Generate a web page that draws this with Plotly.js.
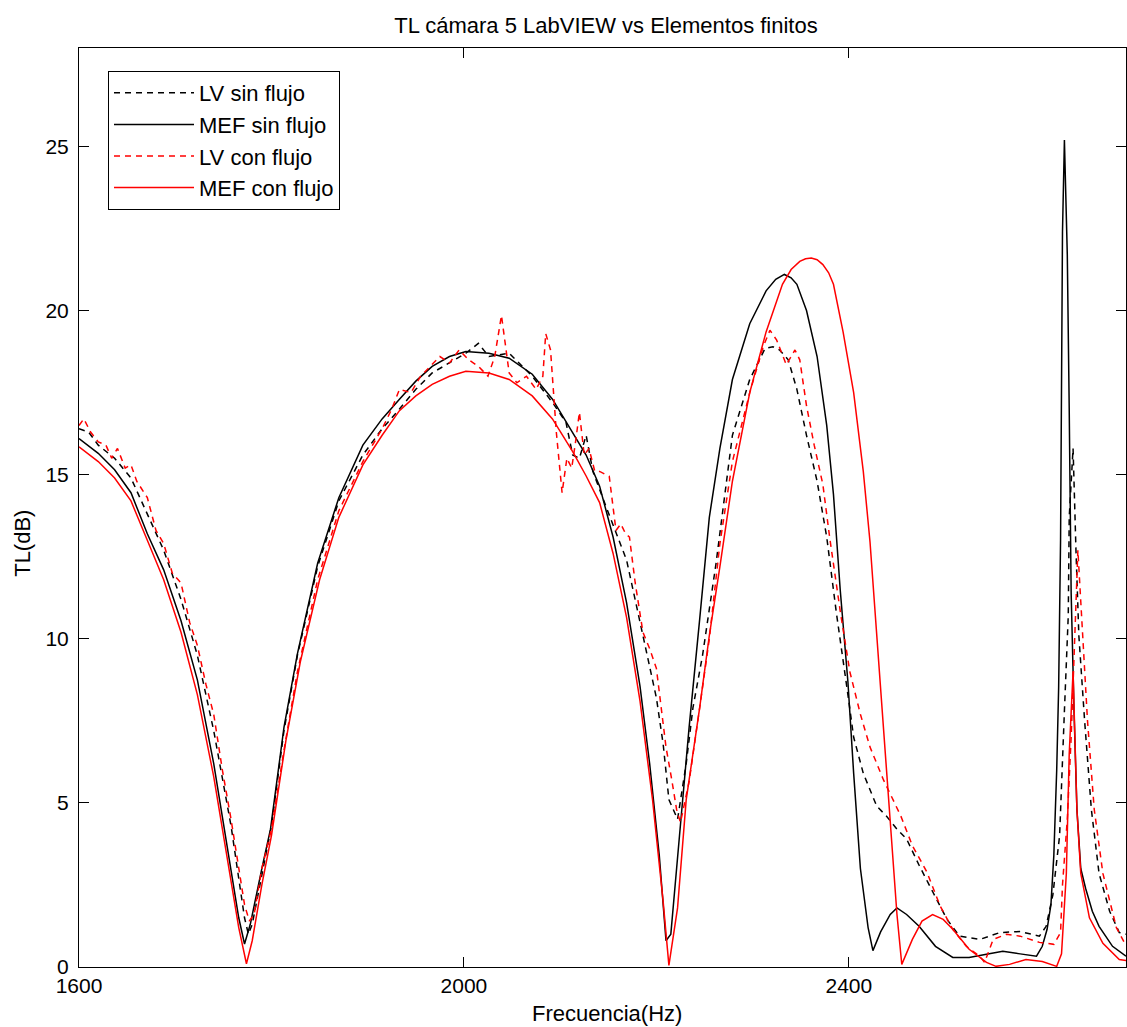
<!DOCTYPE html>
<html>
<head>
<meta charset="utf-8">
<script src="https://cdn.plot.ly/plotly-3.0.1.min.js"></script>
<style>
html,body{margin:0;padding:0;background:#fff;overflow:hidden;}
#chart{width:1127px;height:1027px;}
</style>
</head>
<body>
<div id="chart"></div>
<script>
// LV sin flujo (black dashed)
const fLvSin = [1600,1610,1620,1637,1654,1671,1688,1706,1723,1740,1758,1766,1772,1776,1780,1790,1800,1813,1827,1848,1870,1895,1915,1933,1950,1967,1985,2002,2015,2026,2047,2071,2092,2106,2113,2120,2127,2134,2148,2169,2186,2200,2207,2213,2222,2231,2238,2248,2262,2279,2297,2313,2321,2328,2337,2346,2356,2367,2377,2387,2399,2405,2415,2429,2439,2450,2460,2473,2487,2502,2515,2536,2557,2578,2598,2605,2612,2619,2624,2628,2629,2633,2636,2639,2645,2652,2660,2671,2681,2688];
const tlLvSin = [16.4,16.3,15.9,15.5,14.9,13.8,12.7,11.2,9.5,7.2,4.3,2.7,1.5,1.0,1.3,2.8,4.3,7.2,9.5,12.2,14.2,15.6,16.4,17.0,17.6,18.1,18.4,18.7,19.0,18.6,18.7,18.0,17.2,16.6,15.6,15.5,16.2,15.1,14.0,12.4,10.1,8.2,6.8,5.1,4.5,6.2,7.9,9.5,12.3,16.2,17.9,18.85,18.9,18.8,18.5,17.6,16.2,14.8,13.1,10.8,8.3,7.0,5.9,4.9,4.6,4.2,3.9,3.1,2.3,1.45,0.94,0.84,1.05,1.08,0.94,1.24,2.2,4.0,7.8,10.7,13.7,15.8,12.7,10.1,7.5,4.8,2.85,1.7,1.05,1.0];

// MEF sin flujo (black solid)
const fMefSin = [1600,1620,1637,1654,1671,1688,1706,1723,1740,1758,1766,1772,1778,1790,1799,1813,1827,1848,1870,1895,1915,1933,1950,1967,1985,2002,2026,2047,2071,2092,2113,2127,2141,2155,2169,2183,2193,2203,2210,2215,2224,2234,2245,2255,2266,2279,2297,2314,2324,2333,2340,2346,2356,2367,2377,2384,2391,2399,2405,2412,2420,2425,2433,2443,2450,2460,2473,2490,2508,2525,2543,2560,2578,2595,2601,2606,2610,2613,2616,2618,2620,2621,2622,2624,2626,2627,2629,2631,2634,2637,2641,2646,2653,2660,2674,2688];
const tlMefSin = [16.1,15.65,15.15,14.45,13.2,12.1,10.55,8.75,6.2,3.0,1.5,0.7,1.3,3.0,4.2,7.3,9.55,12.3,14.3,15.9,16.7,17.3,17.85,18.3,18.6,18.75,18.7,18.55,18.06,17.3,16.3,15.6,14.65,13.1,11.1,8.55,6.2,3.4,0.8,1.0,4.0,7.3,10.6,13.7,15.8,17.9,19.6,20.6,20.95,21.1,21.0,20.8,20.0,18.6,16.5,14.4,11.5,8.7,5.9,3.0,1.2,0.5,1.07,1.6,1.8,1.6,1.24,0.63,0.29,0.29,0.39,0.48,0.4,0.33,0.63,1.15,1.9,3.4,6.0,8.5,13,17,22.4,25.2,23,21.7,17,11.4,7.8,4.8,3.0,2.4,1.7,1.24,0.63,0.33];

// LV con flujo (red dashed)
const fLvCon = [1600,1605,1612,1620,1628,1634,1640,1648,1654,1660,1671,1680,1688,1697,1706,1715,1723,1732,1740,1749,1758,1766,1772,1777,1782,1790,1800,1813,1827,1848,1870,1895,1915,1925,1933,1945,1955,1965,1975,1985,1995,2005,2015,2025,2032,2039,2044,2047,2055,2065,2075,2082,2085,2090,2096,2102,2107,2112,2116,2120,2125,2130,2136,2141,2151,2158,2163,2168,2172,2178,2186,2193,2200,2205,2210,2216,2221,2225,2234,2245,2255,2266,2279,2297,2311,2318,2325,2335,2344,2349,2356,2364,2373,2380,2391,2401,2412,2422,2436,2454,2466,2481,2495,2508,2522,2536,2541,2550,2564,2578,2598,2613,2620,2622,2627,2631,2634,2636,2638,2643,2648,2655,2664,2678,2688];
const tlLvCon = [16.5,16.7,16.3,16.0,15.9,15.5,15.8,15.2,15.3,14.8,14.3,13.3,12.9,12.0,11.7,10.5,9.8,8.6,7.7,6.0,4.5,3.0,1.9,1.4,1.6,3.0,4.2,6.6,9.0,11.8,13.9,15.4,16.4,17.0,17.6,17.5,18.0,18.3,18.6,18.4,18.8,18.5,18.3,18.0,18.6,19.85,18.8,18.1,17.8,18.0,17.6,18.0,19.3,18.8,16.3,14.45,15.5,15.2,16.0,16.9,15.6,15.8,15.1,15.1,14.95,13.3,13.5,13.2,13.1,11.7,10.2,9.7,9.1,7.8,6.7,5.7,4.8,4.4,5.65,7.9,10.0,12.9,15.4,17.5,18.9,19.4,19.1,18.35,18.8,18.5,17.1,15.9,14.7,13.1,10.85,9.0,7.7,6.7,5.7,4.6,3.7,2.9,1.85,1.15,0.63,0.33,0.14,0.84,1.0,0.94,0.75,0.69,1.05,2.5,4.5,7.0,9.4,11.0,12.7,10.1,7.5,4.8,2.85,1.2,0.65];

// MEF con flujo (red solid)
const fMefCon = [1600,1620,1637,1654,1671,1688,1706,1723,1740,1758,1766,1774,1780,1790,1800,1815,1830,1850,1870,1895,1915,1933,1950,1967,1985,2002,2026,2047,2071,2092,2113,2127,2141,2155,2169,2183,2196,2207,2213,2222,2231,2245,2255,2266,2279,2297,2314,2331,2340,2349,2355,2361,2367,2373,2379,2384,2394,2405,2415,2422,2429,2436,2443,2450,2455,2466,2476,2487,2498,2508,2525,2543,2553,2567,2584,2601,2616,2621,2626,2629,2633,2634,2637,2641,2650,2664,2681,2688];
const tlMefCon = [15.85,15.4,14.9,14.2,13.0,11.8,10.2,8.3,5.8,2.6,1.2,0.1,0.8,2.5,4.0,6.9,9.3,11.8,13.7,15.3,16.2,16.95,17.4,17.75,18.0,18.15,18.1,17.9,17.4,16.7,15.7,14.96,14.15,12.6,10.65,8.1,5.1,2.0,0.05,1.8,5.1,7.9,10.1,12.2,14.8,17.5,19.35,20.8,21.25,21.5,21.58,21.6,21.55,21.4,21.15,20.8,19.35,17.5,15.1,12.95,10.1,7.3,4.45,1.6,0.08,0.84,1.4,1.6,1.45,1.15,0.54,0.14,0.02,0.08,0.23,0.17,0.02,0.4,2.85,6.5,9.0,8.1,4.8,2.85,1.5,0.72,0.23,0.2];

const seriesNames = ['LV sin flujo','MEF sin flujo','LV con flujo','MEF con flujo'];
const xTicks = [1600,2000,2400];
const yTicks = [0,5,10,15,20,25];

const FONT = 'Liberation Sans, Arial, Helvetica, sans-serif';
const DASH = '6px,5px';

const traces = [
  {x:fLvSin, y:tlLvSin, name:seriesNames[0], mode:'lines', line:{color:'#000000', width:1.5, dash:DASH}},
  {x:fMefSin, y:tlMefSin, name:seriesNames[1], mode:'lines', line:{color:'#000000', width:1.5}},
  {x:fLvCon, y:tlLvCon, name:seriesNames[2], mode:'lines', line:{color:'#ff0000', width:1.5, dash:DASH}},
  {x:fMefCon, y:tlMefCon, name:seriesNames[3], mode:'lines', line:{color:'#ff0000', width:1.5}}
];

const axisCommon = {
  showline:true, linecolor:'#000000', linewidth:1, mirror:'ticks',
  ticks:'inside', ticklen:10, tickcolor:'#000000', tickwidth:1,
  showgrid:false, zeroline:false, fixedrange:true,
  tickfont:{family:FONT, size:21, color:'#000000'}
};

const layout = {
  width:1127, height:1027,
  margin:{l:79, r:1, t:48, b:60, pad:0},
  paper_bgcolor:'#ffffff', plot_bgcolor:'#ffffff',
  font:{family:FONT, size:21, color:'#000000'},
  title:{text:'TL cámara 5 LabVIEW vs Elementos finitos', font:{family:FONT, size:22, color:'#000000'}, x:0.5377, xanchor:'center', xref:'container', y:0.9757, yanchor:'middle', yref:'container'},
  xaxis:Object.assign({}, axisCommon, {range:[1600,2688], tickvals:xTicks, ticktext:xTicks.map(String)}),
  yaxis:Object.assign({}, axisCommon, {range:[0,28], tickvals:yTicks, ticktext:yTicks.map(String), ticklabelstandoff:5}),
  annotations:[
    {text:'Frecuencia(Hz)', xref:'paper', yref:'paper', x:0.5043, y:-0.051, xanchor:'center', yanchor:'middle', showarrow:false, font:{family:FONT, size:22, color:'#000000'}},
    {text:'TL(dB)', xref:'paper', yref:'paper', x:-0.054, y:0.461, xanchor:'center', yanchor:'middle', textangle:-90, showarrow:false, font:{family:FONT, size:22, color:'#000000'}}
  ],
  showlegend:true,
  legend:{x:0.0277, y:0.975, xanchor:'left', yanchor:'top', bgcolor:'#ffffff', bordercolor:'#000000', borderwidth:1,
    font:{family:FONT, size:22, color:'#000000'}, itemwidth:80, tracegroupgap:0},
  hovermode:false
};

Plotly.newPlot('chart', traces, layout, {staticPlot:true, displayModeBar:false});
</script>
</body>
</html>
